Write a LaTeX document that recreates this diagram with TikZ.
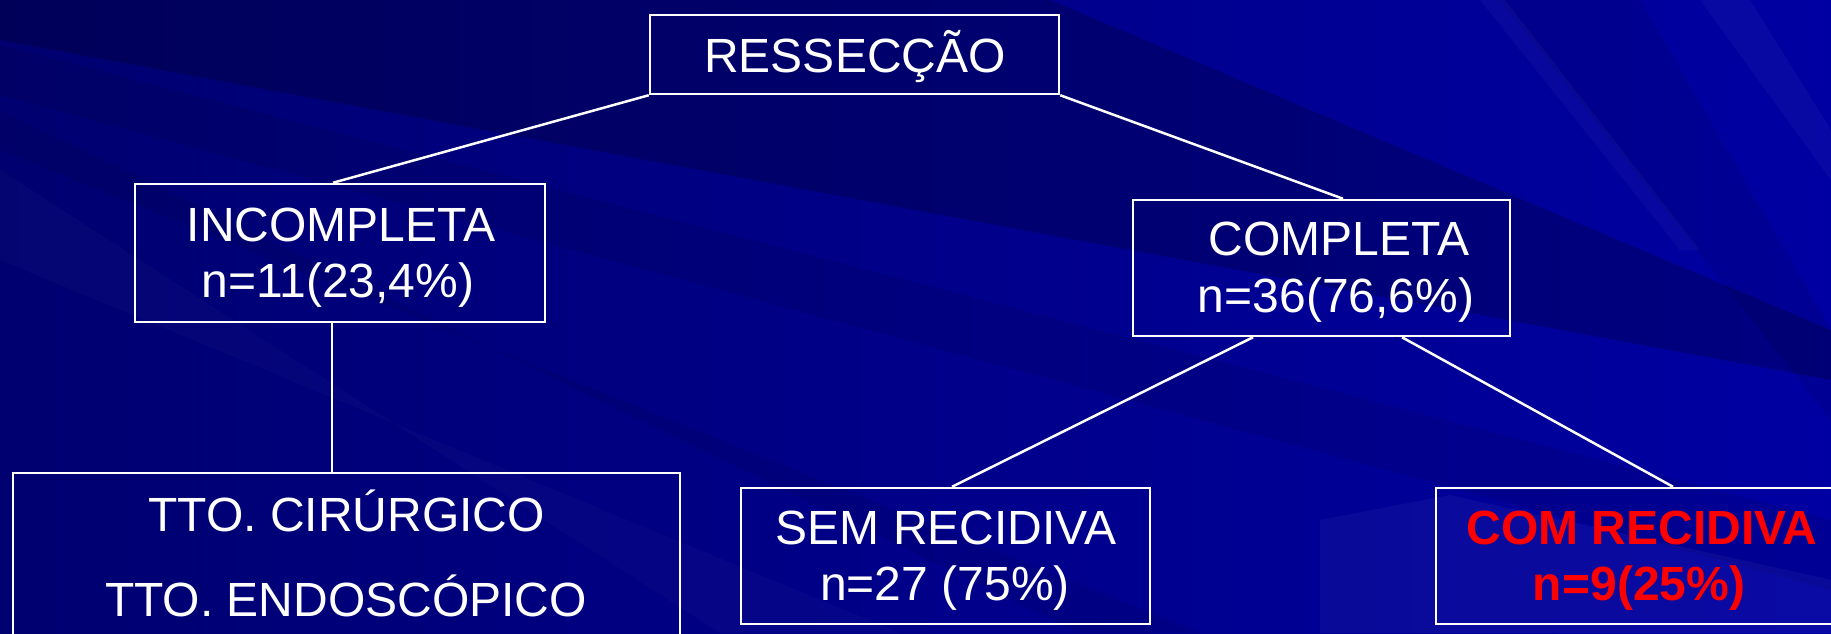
\documentclass[tikz,border=0pt]{standalone}
\usepackage{fontspec}
\setmainfont{Liberation Sans}
\usetikzlibrary{calc}
\definecolor{bgL}{RGB}{0,0,112}
\definecolor{bgR}{RGB}{0,0,162}
\definecolor{redtxt}{RGB}{255,0,0}
\tikzset{
  box/.style={draw=white, line width=2.5pt, inner sep=0pt},
  conn/.style={draw=white, line width=2.5pt},
  txt/.style={text=white, inner sep=0pt, anchor=base, font=\fontsize{48}{56}\selectfont},
  rtxt/.style={text=redtxt, inner sep=0pt, anchor=base, font=\fontsize{48}{56}\selectfont\bfseries}
}
\begin{document}
\begin{tikzpicture}[x=1pt,y=-1pt]
\useasboundingbox (0,0) rectangle (1831,633);
\begin{scope}
\clip (0,0) rectangle (1831,633);
% background
\fill[left color=bgL, right color=bgR] (0,0) rectangle (1831,633);
\fill[black,opacity=.20] (0,0) -- (1050,0) -- (1831,330) -- (1831,380) -- (0,40) -- cycle;
\fill[black,opacity=.08] (0,45) -- (0,95) -- (1831,590) -- (1831,520) -- cycle;
\fill[black,opacity=.07] (0,110) -- (0,150) -- (1200,633) -- (1080,633) -- cycle;
\fill[white,opacity=.02] (0,170) -- (0,260) -- (900,633) -- (720,633) -- cycle;
\fill[black,opacity=.08] (1500,0) -- (1640,0) -- (1831,330) -- (1831,420) -- cycle;
\fill[white,opacity=.03] (1480,0) -- (1505,0) -- (1700,250) -- (1680,250) -- cycle;
\fill[white,opacity=.03] (1700,0) -- (1750,0) -- (1831,130) -- (1831,180) -- cycle;
\fill[white,opacity=.04] (1320,520) -- (1450,495) -- (1831,580) -- (1831,633) -- (1320,633) -- cycle;
\end{scope}
% boxes
\node[box, minimum width=409, minimum height=79] (ress) at (854.5,54.5) {};
\node[box, minimum width=410, minimum height=138] (inc) at (340,253) {};
\node[box, minimum width=377, minimum height=136] (comp) at (1321.5,268) {};
\node[box, minimum width=667, minimum height=227] (tto) at (346.5,586.5) {};
\node[box, minimum width=409, minimum height=136] (sem) at (945.5,556) {};
\node[box, minimum width=464, minimum height=136] (com) at (1668,556) {};
% texts
\node[txt] (ressT) at (855,72) {RESSECÇÃO};
\node[txt] (incA) at (341,241) {INCOMPLETA};
\node[txt] (incB) at (338,297) {n=11(23,4\%)};
\node[txt] (compA) at (1339,255) {COMPLETA};
\node[txt] (compB) at (1336,312) {n=36(76,6\%)};
\node[txt] (ttoA) at (346.5,531) {TTO. CIRÚRGICO};
\node[txt] (ttoB) at (346,616) {TTO. ENDOSCÓPICO};
\node[txt] (semA) at (946,544) {SEM RECIDIVA};
\node[txt] (semB) at (945,600) {n=27 (75\%)};
\node[rtxt] (comA) at (1642,544) {COM RECIDIVA};
\node[rtxt] (comB) at (1639,600) {n=9(25\%)};
% connector end points
\coordinate (incS) at ($(inc.south)+(-8,0)$);
\coordinate (incN) at ($(inc.north)+(-7,0)$);
\coordinate (compN) at ($(comp.north)+(21.5,0)$);
\coordinate (compSL) at ($(comp.south)+(-68.5,0)$);
\coordinate (compSR) at ($(comp.south)+(80.5,0)$);
\coordinate (semN) at ($(sem.north)+(6.5,0)$);
\coordinate (comN) at ($(com.north)+(5,0)$);
% connectors
\draw[conn] (ress.south west) -- (incN);
\draw[conn] (ress.south east) -- (compN);
\draw[conn] (incS) -- (incS |- tto.north);
\draw[conn] (compSL) -- (semN);
\draw[conn] (compSR) -- (comN);
\end{tikzpicture}
\end{document}
